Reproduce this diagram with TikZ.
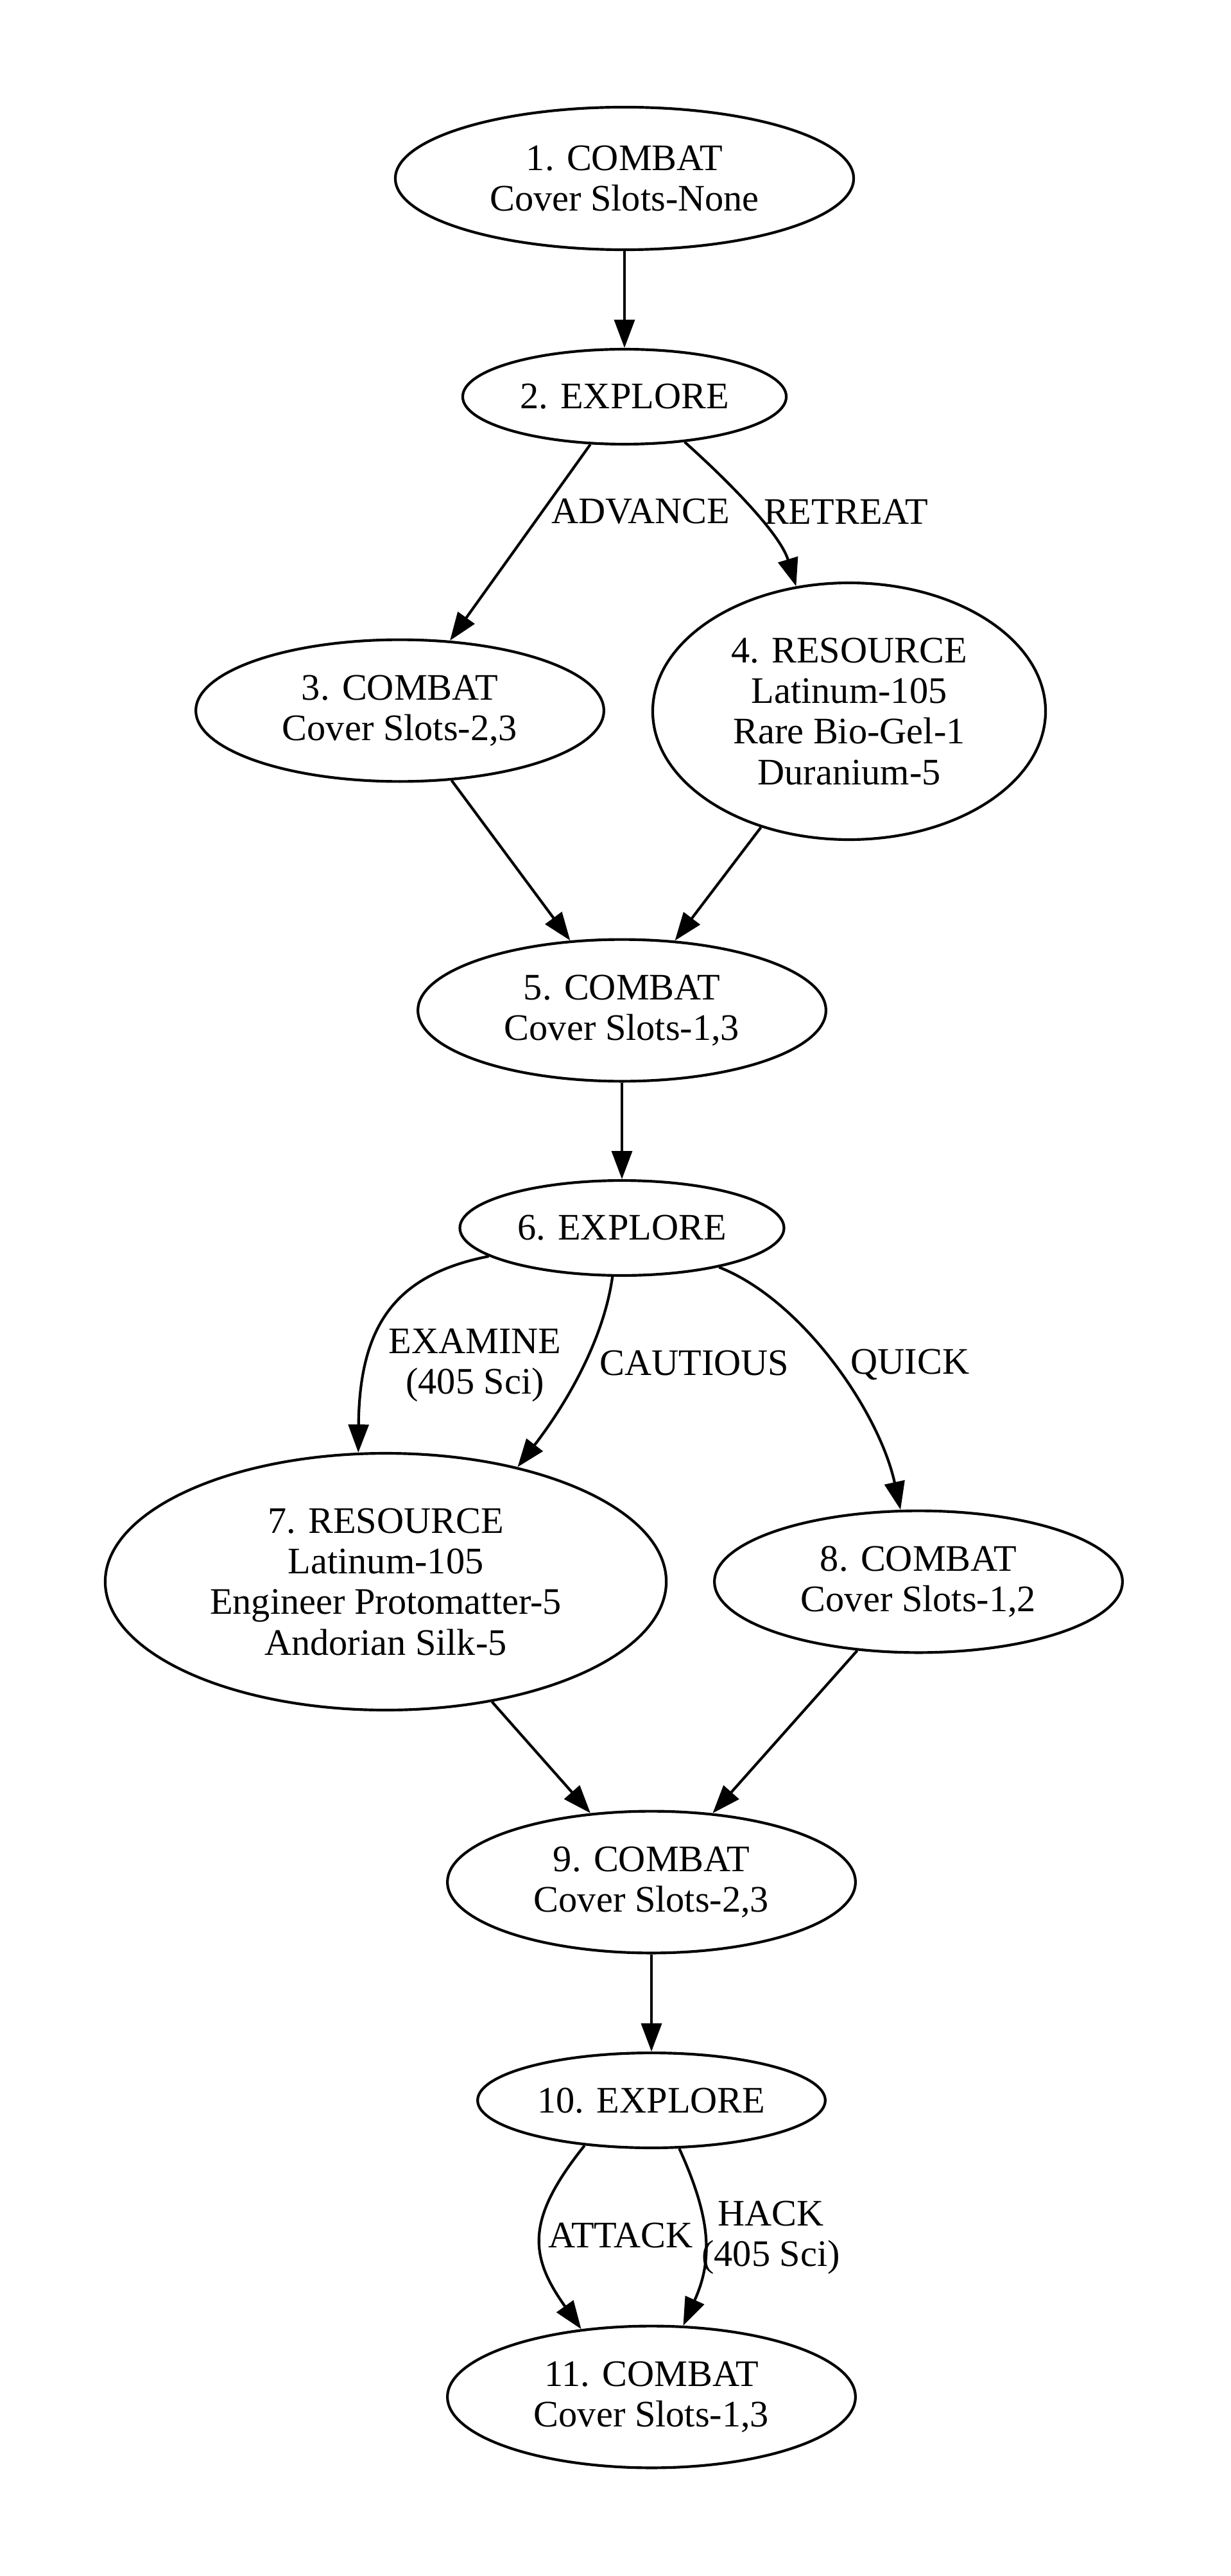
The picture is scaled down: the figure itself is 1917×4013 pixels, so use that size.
\documentclass[tikz,border=0pt]{standalone}
\usepackage{fontspec}
\setmainfont{Liberation Serif}
\usetikzlibrary{arrows.meta,shapes.geometric}
\begin{document}
\begin{tikzpicture}[x=0.24pt,y=-0.24pt,
  state/.style={draw, ellipse, line width=1pt, inner sep=0pt, align=center, font=\fontsize{14}{15.2}\selectfont},
  ctwo/.style={state, minimum width=152.6pt, minimum height=53pt},
  exnode/.style={state, minimum height=35.5pt},
  resnode/.style={state, minimum height=96pt},
  conn/.style={line width=1pt, -{Triangle[length=10.5pt,width=7.6pt]}},
  lbl/.style={inner sep=0pt, align=center, font=\fontsize{14}{15.2}\selectfont}]
\useasboundingbox (0,0) rectangle (1917,4013);

\node[state, minimum width=171.4pt, minimum height=53.3pt] (n1) at (973,278) {1. COMBAT\\Cover Slots-None};
\node[exnode, minimum width=121pt] (n2) at (973,618) {2. EXPLORE};
\node[ctwo] (n3) at (623,1107) {3. COMBAT\\Cover Slots-2,3};
\node[resnode, minimum width=146.9pt] (n4) at (1323,1108) {4. RESOURCE\\Latinum-105\\Rare Bio-Gel-1\\Duranium-5};
\node[ctwo] (n5) at (969,1574) {5. COMBAT\\Cover Slots-1,3};
\node[exnode, minimum width=121.2pt] (n6) at (969,1913) {6. EXPLORE};
\node[resnode, minimum width=209.8pt] (n7) at (601,2464) {7. RESOURCE\\Latinum-105\\Engineer Protomatter-5\\Andorian Silk-5};
\node[ctwo] (n8) at (1431,2464) {8. COMBAT\\Cover Slots-1,2};
\node[ctwo] (n9) at (1015,2932) {9. COMBAT\\Cover Slots-2,3};
\node[exnode, minimum width=130pt] (n10) at (1015,3272) {10. EXPLORE};
\node[ctwo] (n11) at (1015,3734) {11. COMBAT\\Cover Slots-1,3};

\draw[conn] (n1) -- (n2);
\draw[conn] (n2) -- (n3);
\draw[conn] (n2.-37) .. controls (1130,745) and (1215,830) .. (n4.113);
\draw[conn] (n3) -- (n5);
\draw[conn] (n4) -- (n5);
\draw[conn] (n5) -- (n6);
\draw[conn] (n6.192) .. controls (620,1985) and (560,2060) .. (n7.102);
\draw[conn] (n6.259) .. controls (940,2090) and (880,2190) .. (n7.41);
\draw[conn] (n6.-22) .. controls (1250,2025) and (1370,2200) .. (n8.104);
\draw[conn] (n7) -- (n9);
\draw[conn] (n8) -- (n9);
\draw[conn] (n9) -- (n10);
\draw[conn] (n10.214) .. controls (819,3457) and (824,3514) .. (n11.136);
\draw[conn] (n10.-60) .. controls (1108,3456) and (1111,3520) .. (n11.66);

\node[lbl] (l23) at (998,797) {ADVANCE};
\node[lbl] (l24) at (1318,797) {RETREAT};
\node[lbl] (l67a) at (740,2127) {EXAMINE\\(405 Sci)};
\node[lbl] (l67b) at (1082,2123) {CAUTIOUS};
\node[lbl] (l68) at (1418,2126) {QUICK};
\node[lbl] (l1011a) at (967,3482) {ATTACK};
\node[lbl] (l1011b) at (1201,3486) {HACK\\(405 Sci)};
\end{tikzpicture}
\end{document}
